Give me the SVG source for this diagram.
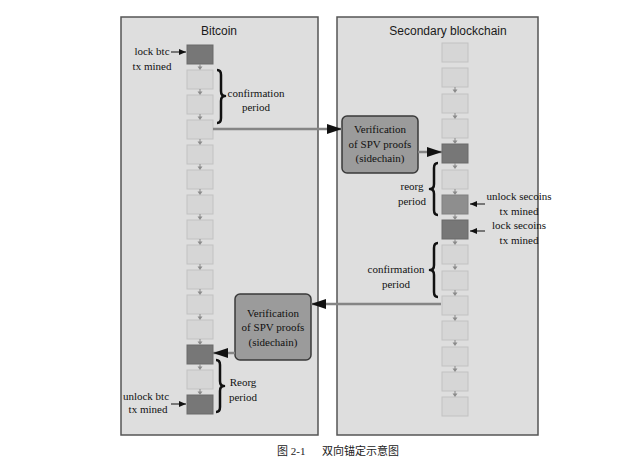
<svg xmlns="http://www.w3.org/2000/svg" xmlns:xlink="http://www.w3.org/1999/xlink" width="617" height="462" viewBox="0 0 617 462">
<style>
.panel{fill:#dedede;stroke:#555;stroke-width:1.5}
.title{font-family:"Liberation Sans",Arial,sans-serif;font-size:12px;fill:#1a1a1a;text-anchor:middle}
.lbl{font-family:"Liberation Serif","Times New Roman",serif;font-size:11px;fill:#111;text-anchor:middle}
.blk{fill:#d6d6d6;stroke:#c2c2c2;stroke-width:1}
.dark{fill:#777;stroke:#6a6a6a;stroke-width:1}
.mid{fill:#8e8e8e;stroke:#808080;stroke-width:1}
.ver{fill:#9b9b9b;stroke:#3a3a3a;stroke-width:1.5}
.conn{stroke:#858585;stroke-width:2.5;fill:none}
.small{stroke:#111;stroke-width:1;fill:none}
.brace{stroke:#111;stroke-width:2.5;fill:none;stroke-linejoin:round}
.cap{font-family:"Liberation Serif","Noto Sans CJK SC",serif;font-size:11px;fill:#222}
</style>
<defs>
<marker id="big" markerUnits="userSpaceOnUse" markerWidth="15" markerHeight="10" refX="15" refY="5" orient="auto"><path d="M0,0 L15,5 L0,10 Z" fill="#111"/></marker>
<marker id="sm" markerUnits="userSpaceOnUse" markerWidth="7" markerHeight="6" refX="7" refY="3" orient="auto"><path d="M0,0 L7,3 L0,6 Z" fill="#111"/></marker>
<g id="tk"><line x1="0" y1="0" x2="0" y2="3" stroke="#8a8a8a" stroke-width="1"/><path d="M-2.5,2.5 L2.5,2.5 L0,6 Z" fill="#8a8a8a"/></g>
</defs>
<rect width="617" height="462" fill="#fff"/>

<g id="bitcoin-panel">
<rect class="panel" x="121" y="17" width="197" height="418"/>
<text class="title" x="219" y="35">Bitcoin</text>
</g>
<g id="secondary-panel">
<rect class="panel" x="337" y="17" width="201" height="418"/>
<text class="title" x="448" y="35">Secondary blockchain</text>
</g>

<g id="bitcoin-chain">
<rect class="dark" x="187" y="45" width="26" height="19"/>
<rect class="blk" x="187" y="70" width="26" height="19"/>
<rect class="blk" x="187" y="95" width="26" height="19"/>
<rect class="blk" x="187" y="120" width="26" height="19"/>
<rect class="blk" x="187" y="145" width="26" height="19"/>
<rect class="blk" x="187" y="170" width="26" height="19"/>
<rect class="blk" x="187" y="195" width="26" height="19"/>
<rect class="blk" x="187" y="220" width="26" height="19"/>
<rect class="blk" x="187" y="245" width="26" height="19"/>
<rect class="blk" x="187" y="270" width="26" height="19"/>
<rect class="blk" x="187" y="295" width="26" height="19"/>
<rect class="blk" x="187" y="320" width="26" height="19"/>
<rect class="dark" x="187" y="345" width="26" height="19"/>
<rect class="blk" x="187" y="370" width="26" height="19"/>
<rect class="dark" x="187" y="395" width="26" height="19"/>
<use href="#tk" x="200" y="64"/><use href="#tk" x="200" y="89"/><use href="#tk" x="200" y="114"/><use href="#tk" x="200" y="139"/><use href="#tk" x="200" y="164"/><use href="#tk" x="200" y="189"/><use href="#tk" x="200" y="214"/><use href="#tk" x="200" y="239"/><use href="#tk" x="200" y="264"/><use href="#tk" x="200" y="289"/><use href="#tk" x="200" y="314"/><use href="#tk" x="200" y="339"/><use href="#tk" x="200" y="364"/><use href="#tk" x="200" y="389"/>
</g>

<g id="secondary-chain">
<rect class="blk" x="442" y="43" width="26" height="19"/>
<rect class="blk" x="442" y="68" width="26" height="19"/>
<rect class="blk" x="442" y="94" width="26" height="19"/>
<rect class="blk" x="442" y="119" width="26" height="19"/>
<rect class="dark" x="442" y="144" width="26" height="19"/>
<rect class="blk" x="442" y="170" width="26" height="19"/>
<rect class="mid" x="442" y="195" width="26" height="19"/>
<rect class="dark" x="442" y="220" width="26" height="19"/>
<rect class="blk" x="442" y="245" width="26" height="19"/>
<rect class="blk" x="442" y="271" width="26" height="19"/>
<rect class="blk" x="442" y="296" width="26" height="19"/>
<rect class="blk" x="442" y="321" width="26" height="19"/>
<rect class="blk" x="442" y="347" width="26" height="19"/>
<rect class="blk" x="442" y="372" width="26" height="19"/>
<rect class="blk" x="442" y="397" width="26" height="19"/>
<use href="#tk" x="455" y="87"/><use href="#tk" x="455" y="113"/><use href="#tk" x="455" y="138"/><use href="#tk" x="455" y="163"/><use href="#tk" x="455" y="189"/><use href="#tk" x="455" y="214"/><use href="#tk" x="455" y="239"/><use href="#tk" x="455" y="264"/><use href="#tk" x="455" y="290"/><use href="#tk" x="455" y="315"/><use href="#tk" x="455" y="340"/><use href="#tk" x="455" y="366"/><use href="#tk" x="455" y="391"/>
</g>

<g id="verify-sidechain">
<rect class="ver" x="342" y="116" width="76" height="57" rx="5"/>
<text class="lbl" x="380" y="133">Verification</text>
<text class="lbl" x="380" y="148">of SPV proofs</text>
<text class="lbl" x="380" y="162">(sidechain)</text>
</g>
<g id="verify-bitcoin">
<rect class="ver" x="235" y="294" width="76" height="66" rx="5"/>
<text class="lbl" x="273" y="317">Verification</text>
<text class="lbl" x="273" y="331">of SPV proofs</text>
<text class="lbl" x="273" y="346">(sidechain)</text>
</g>

<g id="labels">
<text class="lbl" x="152" y="55">lock btc</text>
<text class="lbl" x="152" y="70">tx mined</text>
<text class="lbl" x="256" y="97">confirmation</text>
<text class="lbl" x="256" y="111">period</text>
<text class="lbl" x="243" y="386">Reorg</text>
<text class="lbl" x="243" y="401">period</text>
<text class="lbl" x="146" y="400">unlock btc</text>
<text class="lbl" x="148" y="413">tx mined</text>
<text class="lbl" x="412" y="190">reorg</text>
<text class="lbl" x="412" y="205">period</text>
<text class="lbl" x="519" y="200">unlock secoins</text>
<text class="lbl" x="519" y="215">tx mined</text>
<text class="lbl" x="519" y="229">lock secoins</text>
<text class="lbl" x="519" y="244">tx mined</text>
<text class="lbl" x="396" y="273">confirmation</text>
<text class="lbl" x="396" y="288">period</text>
</g>

<g id="braces">
<path class="brace" d="M217,70 Q221,70 221,75 L221,91 Q221,96 225,96 Q221,96 221,101 L221,118 Q221,123 217,123"/>
<path class="brace" d="M438,163 Q434,163 434,168 L434,184 Q434,189 430,189 Q434,189 434,194 L434,210 Q434,215 438,215"/>
<path class="brace" d="M438,243 Q434,243 434,248 L434,265 Q434,270 430,270 Q434,270 434,275 L434,292 Q434,297 438,297"/>
<path class="brace" d="M216,360 Q220,360 220,365 L220,381 Q220,386 224,386 Q220,386 220,391 L220,407 Q220,412 216,412"/>
</g>

<g id="connectors">
<line class="conn" x1="213" y1="129" x2="342" y2="129" marker-end="url(#big)"/>
<line class="conn" x1="418" y1="152" x2="442" y2="152" marker-end="url(#big)"/>
<line class="conn" x1="441" y1="304" x2="311" y2="304" marker-end="url(#big)"/>
<line class="conn" x1="235" y1="353" x2="213" y2="353" marker-end="url(#big)"/>
<line class="small" x1="171" y1="52" x2="186" y2="52" marker-end="url(#sm)"/>
<line class="small" x1="171" y1="404" x2="186" y2="404" marker-end="url(#sm)"/>
<line class="small" x1="485" y1="204" x2="470" y2="204" marker-end="url(#sm)"/>
<line class="small" x1="485" y1="231" x2="470" y2="231" marker-end="url(#sm)"/>
</g>

<text class="cap" x="277" y="455">图 2-1<tspan x="322">双向锚定示意图</tspan></text>
</svg>
